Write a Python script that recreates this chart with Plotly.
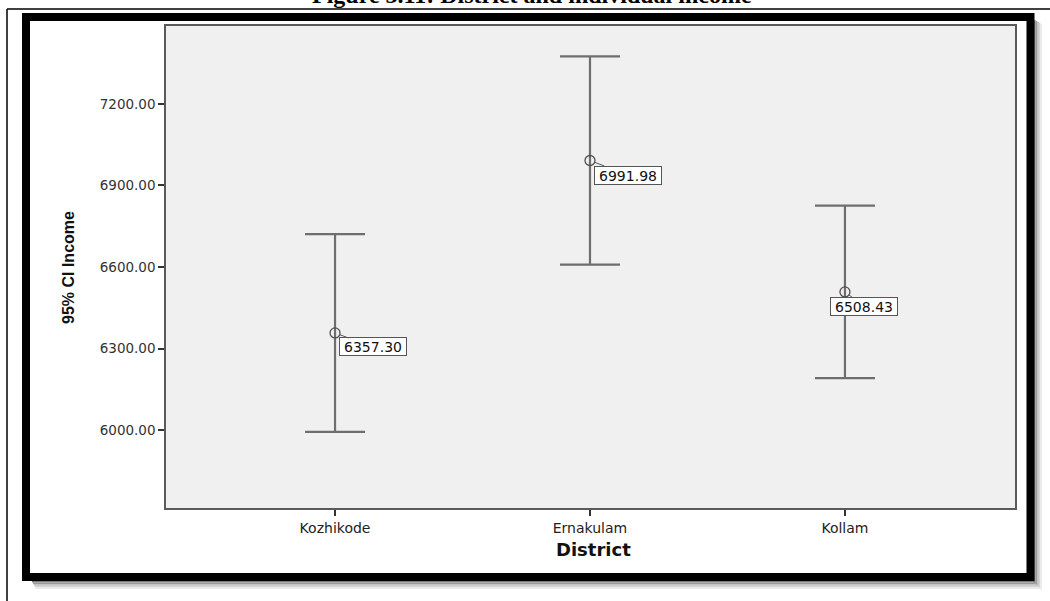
import plotly.graph_objects as go

# ---- data ----
districts = ["Kozhikode", "Ernakulam", "Kollam"]
means = [6357.30, 6991.98, 6508.43]
ci_upper = [6721, 7375, 6826]
ci_lower = [5993, 6609, 6191]
y_ticks = [6000, 6300, 6600, 6900, 7200]

title_text = "Figure 3.11: District and individual income"
x_title = "District"
y_title = "95% CI Income"

# ---- layout geometry (pixels) ----
W, H = 1050, 601
L, R, T, B = 166, 1015, 26, 508
PW, PH = R - L, B - T


def px(x):
    return (x - L) / PW


def py(y):
    return (B - y) / PH


err_plus = [u - m for u, m in zip(ci_upper, means)]
err_minus = [m - l for m, l in zip(means, ci_lower)]

fig = go.Figure()
fig.add_trace(go.Scatter(
    x=districts, y=means, mode="markers",
    marker=dict(symbol="circle-open", size=10, color="#505050", line=dict(width=1.3)),
    error_y=dict(type="data", symmetric=False, array=err_plus, arrayminus=err_minus,
                 color="#6e6e6e", thickness=2.2, width=30),
    hoverinfo="skip", showlegend=False,
))

shapes = []
# thin table border lines
shapes.append(dict(type="line", xref="paper", yref="paper", x0=px(7), x1=px(7), y0=py(9), y1=py(605),
                   line=dict(color="black", width=1.5), layer="below"))
shapes.append(dict(type="line", xref="paper", yref="paper", x0=px(7), x1=px(1055), y0=py(9), y1=py(9),
                   line=dict(color="black", width=1.5), layer="below"))
# shadow stripes
shade = ["#7a7a7a", "#9a9a9a", "#b8b8b8", "#d4d4d4", "#ebebeb"]
for i, c in enumerate(shade):
    x0 = 1034 + i * 1.6
    shapes.append(dict(type="rect", xref="paper", yref="paper", x0=px(x0), x1=px(x0 + 1.6),
                       y0=py(20 + i), y1=py(582 + i * 1.6 + 1.6), fillcolor=c, line=dict(width=0),
                       layer="below"))
    y0 = 581 + i * 1.6
    shapes.append(dict(type="rect", xref="paper", yref="paper", x0=px(32 + i), x1=px(1034 + i * 1.6),
                       y0=py(y0), y1=py(y0 + 1.6), fillcolor=c, line=dict(width=0), layer="below"))
# thick black frame
shapes.append(dict(type="rect", xref="paper", yref="paper", x0=px(26), x1=px(1030.5), y0=py(17), y1=py(577),
                   line=dict(color="black", width=8), fillcolor="rgba(0,0,0,0)", layer="below"))

annotations = []
annotations.append(dict(text="<b>" + title_text + "</b>", xref="paper", yref="paper", x=px(532), y=py(10),
                        xanchor="center", yanchor="bottom", showarrow=False,
                        font=dict(family="Liberation Serif, Times New Roman, serif", size=24, color="black")))
annotations.append(dict(text="<b>" + x_title + "</b>", xref="paper", yref="paper", x=px(593), y=py(549),
                        xanchor="center", yanchor="middle", showarrow=False,
                        font=dict(family="DejaVu Sans, sans-serif", size=18, color="#111")))
annotations.append(dict(text="<b>" + y_title + "</b>", xref="paper", yref="paper", x=px(68), y=py(268),
                        xanchor="center", yanchor="middle", showarrow=False, textangle=-90,
                        font=dict(family="Liberation Sans, Arial, sans-serif", size=16, color="#111")))

offsets = [(37.5, 14), (38, 14.5), (19.5, 14.5)]
for d, m, (ax, ay) in zip(districts, means, offsets):
    annotations.append(dict(text=f"{m:.2f}", x=d, y=m, xref="x", yref="y", ax=ax, ay=ay,
                            showarrow=True, arrowhead=0, arrowwidth=1, arrowcolor="#555", standoff=5,
                            bgcolor="white", bordercolor="#555", borderwidth=1, borderpad=0,
                            width=66, height=17,
                            font=dict(family="DejaVu Sans, sans-serif", size=14, color="#111")))

fig.update_layout(
    width=W, height=H,
    margin=dict(l=L, r=W - R, t=T, b=H - B, pad=0),
    paper_bgcolor="white", plot_bgcolor="#f0f0f0",
    shapes=shapes, annotations=annotations,
    xaxis=dict(type="category", range=[-0.663, 2.667], showgrid=False, zeroline=False,
               showline=True, mirror=True, linecolor="#5a5a5a", linewidth=1.5,
               ticks="outside", ticklen=6, tickwidth=1.5, tickcolor="#333",
               tickfont=dict(family="DejaVu Sans, sans-serif", size=14, color="#222")),
    yaxis=dict(range=[5713, 7487], tickvals=y_ticks, tickformat=".2f", showgrid=False, zeroline=False,
               showline=True, mirror=True, linecolor="#5a5a5a", linewidth=1.5,
               ticks="outside", ticklen=6, tickwidth=1.5, tickcolor="#333",
               tickfont=dict(family="DejaVu Sans, sans-serif", size=13.5, color="#333")),
)

fig.write_html("out.html", config={"displayModeBar": False},
               post_script="document.body.style.margin='0px';document.body.style.overflow='hidden';")
